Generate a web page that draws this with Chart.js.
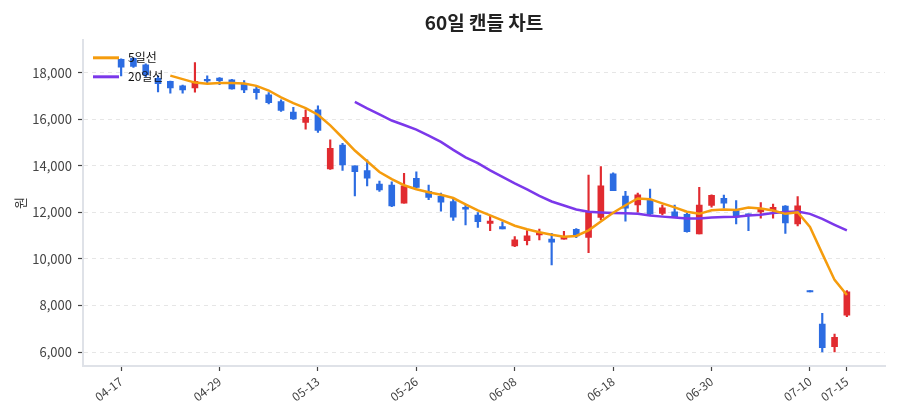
<!DOCTYPE html>
<html>
<head>
<meta charset="utf-8">
<script src="https://cdn.jsdelivr.net/npm/chart.js@4/dist/chart.umd.min.js"></script>
<style>
  html, body { margin: 0; padding: 0; background: #fff; }
</style>
</head>
<body>
<canvas id="myChart" width="900" height="420"></canvas>
<script>
const dates = [
  "04-17", "04-18", "04-21", "04-22", "04-23", "04-24", "04-25", "04-28",
  "04-29", "04-30", "05-01", "05-02", "05-07", "05-08", "05-09", "05-12",
  "05-13", "05-14", "05-15", "05-16", "05-19", "05-20", "05-21", "05-22",
  "05-26", "05-27", "05-28", "05-29", "05-30", "06-02", "06-04", "06-05",
  "06-08", "06-09", "06-10", "06-11", "06-12", "06-13", "06-16", "06-17",
  "06-18", "06-19", "06-20", "06-23", "06-24", "06-25", "06-26", "06-27",
  "06-30", "07-01", "07-02", "07-03", "07-04", "07-07", "07-08", "07-09",
  "07-10", "07-11", "07-14", "07-15",
];

const open = [
  18580, 18620, 18340, 17760, 17630, 17440, 17350, 17720, 17770, 17700,
  17520, 17300, 17050, 16770, 16310, 15870, 16410, 13870, 14900, 14000,
  13800, 13220, 13180, 12400, 13470, 12910, 12690, 12470, 12220, 11890,
  11530, 11390, 10560, 10790, 11030, 10860, 10850, 11270, 10930, 11790,
  13660, 12700, 12320, 12540, 11960, 12030, 11920, 11080, 12300, 12610,
  12080, 11940, 12020, 12090, 12270, 11510, 8640, 7200, 6230, 7590,
];
const high = [
  18600, 18650, 18390, 17870, 17650, 17470, 18440, 17870, 17800, 17720,
  17670, 17410, 17150, 16840, 16520, 16410, 16580, 15120, 14970, 14000,
  14260, 13350, 13320, 13680, 13750, 13180, 12830, 12570, 12320, 11990,
  11850, 11600, 10960, 11220, 11280, 11100, 11190, 11310, 13610, 13970,
  13700, 12910, 12830, 13000, 12320, 12320, 11960, 13080, 12760, 12750,
  12510, 11940, 12420, 12360, 12300, 12680, 8640, 7660, 6770, 8640,
];
const low = [
  17870, 18230, 17830, 17180, 17130, 17130, 17170, 17550, 17490, 17300,
  17150, 16870, 16660, 16340, 16000, 15580, 15440, 13850, 13810, 12710,
  13140, 12900, 12250, 12400, 13050, 12550, 12050, 11660, 11460, 11360,
  11220, 11290, 10530, 10600, 10820, 9740, 10850, 10920, 10270, 11680,
  12940, 11620, 12010, 11890, 11890, 11790, 11150, 11080, 12230, 12180,
  11510, 11220, 11750, 11750, 11100, 11420, 8580, 6010, 6010, 7520,
];
const close = [
  18240, 18280, 17910, 17530, 17350, 17270, 17630, 17650, 17660, 17310,
  17270, 17150, 16720, 16380, 16020, 16090, 15520, 14760, 14040, 13750,
  13470, 12970, 12280, 13140, 13080, 12650, 12440, 11800, 12140, 11600,
  11630, 11290, 10820, 11000, 11130, 10720, 10930, 10990, 12030, 13140,
  12940, 12180, 12760, 11940, 12200, 11820, 11170, 12320, 12730, 12400,
  11800, 11860, 12140, 12220, 11550, 12280, 8580, 6190, 6630, 8590,
];

const ma5 = [
  null, null, null, null, 17880, 17730, 17580, 17530, 17560, 17560,
  17540, 17440, 17240, 16950, 16700, 16480, 16200, 15740, 15210, 14660,
  14200, 13740, 13430, 13170, 13000, 12870, 12760, 12620, 12350, 12090,
  11870, 11660, 11430, 11280, 11150, 11040, 10960, 10990, 11230, 11610,
  11990, 12310, 12600, 12570, 12390, 12220, 12030, 11940, 12090, 12130,
  12110, 12210, 12170, 12080, 11940, 12010, 11380, 10230, 9100, 8450,
];
const ma20 = [
  null, null, null, null, null, null, null, null, null, null,
  null, null, null, null, null, null, null, null, null, 16750,
  16470, 16210, 15950, 15760, 15560, 15300, 15030, 14690, 14370, 14120,
  13810, 13530, 13250, 12990, 12710, 12470, 12300, 12130, 12030, 12000,
  11980, 11960, 11940, 11870, 11820, 11780, 11740, 11740, 11780, 11800,
  11820, 11870, 11900, 11980, 12020, 12040, 11940, 11720, 11470, 11230,
];

const xTickIdx = [0, 8, 16, 24, 32, 40, 48, 56, 59];
const yTicks = [6000, 8000, 10000, 12000, 14000, 16000, 18000];

const UP = "#e12b30";
const DOWN = "#2c6ce2";
const candleColor = close.map((c, i) => (c >= open[i] ? UP : DOWN));

Chart.defaults.font.family = "'Noto Sans CJK KR', 'Noto Sans', sans-serif";

// draws the two moving-average legend rows inside the plot, top left
const lineLegend = {
  id: "lineLegend",
  afterDatasetsDraw(chart) {
    const { ctx, chartArea } = chart;
    let y = chartArea.top + 18;
    chart.data.datasets.forEach((ds) => {
      if (ds.type !== "line") return;
      ctx.save();
      ctx.strokeStyle = ds.borderColor;
      ctx.lineWidth = 3;
      ctx.beginPath();
      ctx.moveTo(chartArea.left + 10, y);
      ctx.lineTo(chartArea.left + 36, y);
      ctx.stroke();
      ctx.fillStyle = "#111";
      ctx.font = "12px 'Noto Sans CJK KR'";
      ctx.textBaseline = "middle";
      ctx.fillText(ds.label, chartArea.left + 45, y);
      ctx.restore();
      y += 19;
    });
  },
};

const chartContainer = document.querySelector("#myChart");

const data = {
  datasets: [
    {
      type: "line",
      label: "5일선",
      data: ma5.map((v, i) => ({ x: i, y: v })),
      borderColor: "#f59c0d",
      backgroundColor: "#f59c0d",
      borderWidth: 2.5,
      pointRadius: 0,
      tension: 0,
      order: 0,
    },
    {
      type: "line",
      label: "20일선",
      data: ma20.map((v, i) => ({ x: i, y: v })),
      borderColor: "#7b38ea",
      backgroundColor: "#7b38ea",
      borderWidth: 2.5,
      pointRadius: 0,
      tension: 0,
      order: 0,
    },
    {
      label: "body",
      data: open.map((o, i) => ({ x: i, y: [o, close[i]] })),
      backgroundColor: candleColor,
      barThickness: 6,
      grouped: false,
      order: 1,
    },
    {
      label: "wick",
      data: low.map((l, i) => ({ x: i, y: [l, high[i]] })),
      backgroundColor: candleColor,
      barThickness: 1.5,
      grouped: false,
      order: 2,
    },
  ],
};

const config = {
  type: "bar",
  data: data,
  plugins: [lineLegend],
  options: {
    responsive: false,
    animation: false,
    devicePixelRatio: 1,
    layout: { padding: { left: 0, right: 15, top: 0, bottom: 0 } },
    plugins: {
      legend: { display: false },
      tooltip: { enabled: false },
      title: {
        display: true,
        text: "60일 캔들 차트",
        fullSize: false,
        color: "#222",
        font: { size: 19, weight: "bold" },
        padding: { top: 11, bottom: 6 },
      },
    },
    scales: {
      x: {
        type: "linear",
        offset: false,
        min: -3.1,
        max: 62.1,
        afterBuildTicks: (s) => {
          s.ticks = xTickIdx.map((v) => ({ value: v }));
        },
        afterFit: (s) => {
          s.height = 54;
        },
        ticks: {
          autoSkip: false,
          minRotation: 37,
          maxRotation: 37,
          padding: 3,
          color: "#444",
          font: { size: 12 },
          callback: (v) => dates[v],
        },
        grid: {
          offset: false,
          drawOnChartArea: false,
          tickLength: 5,
          tickColor: "#444",
          tickWidth: 1.2,
        },
        border: { color: "#dfe2e8", width: 2 },
      },
      y: {
        min: 5400,
        max: 19420,
        afterBuildTicks: (s) => {
          s.ticks = yTicks.map((v) => ({ value: v }));
        },
        afterFit: (s) => {
          s.width = 83;
        },
        ticks: {
          padding: 6,
          color: "#444",
          font: { size: 13 },
          callback: (v) => v.toLocaleString("en-US"),
        },
        grid: { color: "#e6e6e6", tickLength: 5, tickColor: "#444", tickWidth: 1.2 },
        border: { color: "#dfe2e8", width: 2, dash: [4, 4] },
        title: {
          display: true,
          text: "원",
          color: "#333",
          font: { size: 13 },
          padding: { top: 12, bottom: 0 },
        },
      },
    },
  },
};

const myChart = new Chart(chartContainer, config);
</script>
</body>
</html>
